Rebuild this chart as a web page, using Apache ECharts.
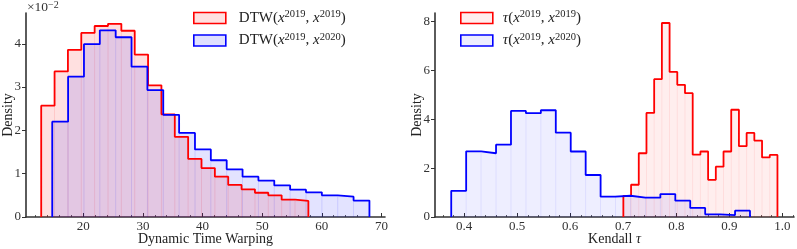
<!DOCTYPE html>
<html>
<head>
<meta charset="utf-8">
<script src="https://cdn.jsdelivr.net/npm/echarts@6/dist/echarts.min.js"></script>
<style>
html,body{margin:0;padding:0;background:#fff;}
#c{width:797px;height:249px;}
</style>
</head>
<body>
<div id="c"></div>
<script>
// ---------- data ----------
// DTW histograms (density, x 1e-2), 20 bins each
const dtwSameRange = [12.95, 57.75];
const dtwSame = [2.57,3.36,3.86,4.25,4.41,4.46,4.30,3.75,3.04,2.37,1.85,1.34,1.13,0.93,0.74,0.64,0.56,0.50,0.40,0.37];
const dtwCrossRange = [14.80, 67.99];
const dtwCross = [2.20,3.24,3.99,4.31,4.15,3.47,2.93,2.36,1.94,1.56,1.31,1.10,0.93,0.84,0.73,0.63,0.57,0.50,0.47,0.38];
// Kendall tau histograms (density), 20 bins each
const tauSameRange = [0.7002, 0.9908];
const tauSame = [0.86,1.32,2.61,4.26,5.64,7.94,5.94,5.41,5.07,2.55,2.68,1.52,2.06,2.68,4.39,2.90,3.44,3.13,2.44,2.54];
const tauCrossRange = [0.3756, 0.9390];
const tauCross = [1.07,2.69,2.61,2.96,4.34,4.25,4.37,3.45,2.68,1.72,0.83,0.87,0.79,0.79,0.94,0.67,0.37,0.11,0.08,0.26];
// tick labels
const dtwTicks = [20,30,40,50,60,70];
const dtwMinor = [12,14,16,18,22,24,26,28,32,34,36,38,42,44,46,48,52,54,56,58,62,64,66,68];
const tauTicks = [0.4,0.5,0.6,0.7,0.8,0.9,1.0];
const tauMinor = [0.36,0.38,0.42,0.44,0.46,0.48,0.52,0.54,0.56,0.58,0.62,0.64,0.66,0.68,0.72,0.74,0.76,0.78,0.82,0.84,0.86,0.88,0.92,0.94,0.96,0.98,1.02];
const dtwYTicks = [0,1,2,3,4];
const tauYTicks = [0,2,4,6,8];

// ---------- helpers ----------
const FONT = "'Liberation Serif', 'DejaVu Serif', serif";
function bins(range, h){
  const n = h.length, w = (range[1]-range[0])/n;
  return h.map((v,i)=>[range[0]+i*w, range[0]+(i+1)*w, v]);
}
function outline(range, h){
  const b = bins(range, h);
  const pts = [[b[0][0], 0]];
  b.forEach(r=>{ pts.push([r[0], r[2]]); pts.push([r[1], r[2]]); });
  pts.push([b[b.length-1][1], 0]);
  return pts;
}
function fillSeries(name, gi, range, h, fill, edge){
  return {
    type:'custom', name:name, xAxisIndex:gi*2, yAxisIndex:gi, silent:true,
    data: bins(range, h), encode:{x:[0,1], y:2},
    renderItem:function(params, api){
      const p0 = api.coord([api.value(0), api.value(2)]);
      const p1 = api.coord([api.value(1), 0]);
      return {type:'rect', shape:{x:p0[0], y:p0[1], width:p1[0]-p0[0], height:p1[1]-p0[1]},
              style:{fill:fill, stroke:edge, lineWidth:1}};
    }
  };
}
function lineSeries(name, gi, range, h, color){
  return {
    type:'line', name:name, xAxisIndex:gi*2, yAxisIndex:gi, data: outline(range, h),
    showSymbol:false, symbol:'none', lineStyle:{color:color, width:1.8}, itemStyle:{color:color},
    z:5
  };
}
const axisCol = '#333';
function xMain(gi, min, max, ticks, fmt, name){
  return {type:'value', gridIndex:gi, min:min, max:max, position:'bottom',
    name:name, nameLocation:'middle', nameGap:15, nameMoveOverlap:false,
    nameTextStyle:{fontFamily:FONT, fontSize:14, color:'#222', verticalAlign:'top', rich:{it:{fontFamily:FONT, fontSize:14, fontStyle:'italic', color:'#222'}}},
    axisLine:{show:true, onZero:false, lineStyle:{color:axisCol, width:1.6}},
    axisTick:{show:true, inside:true, length:4, customValues:ticks, lineStyle:{color:axisCol, width:1}},
    axisLabel:{show:true, customValues:ticks, formatter:fmt, margin:3, fontFamily:FONT, fontSize:13, color:'#333'},
    splitLine:{show:false}};
}
function xMinor(gi, min, max, ticks){
  return {type:'value', gridIndex:gi, min:min, max:max, position:'bottom',
    axisLine:{show:false, onZero:false},
    axisTick:{show:true, inside:true, length:2, customValues:ticks, lineStyle:{color:axisCol, width:0.8}},
    axisLabel:{show:false}, splitLine:{show:false}};
}
function yAxis(gi, max, ticks){
  return {type:'value', gridIndex:gi, min:0, max:max,
    name:'Density', nameLocation:'middle', nameGap:11, nameRotate:90, nameMoveOverlap:false,
    nameTextStyle:{fontFamily:FONT, fontSize:14, color:'#222'},
    axisLine:{show:true, lineStyle:{color:axisCol, width:1.6}},
    axisTick:{show:true, inside:false, length:4, customValues:ticks, lineStyle:{color:axisCol, width:1}},
    axisLabel:{margin:5, customValues:ticks, fontFamily:FONT, fontSize:13, color:'#333'},
    splitLine:{show:false}};
}
const richLegend = {
  n:{fontFamily:FONT, fontSize:15, color:'#222', lineHeight:18},
  it:{fontFamily:FONT, fontSize:15, fontStyle:'italic', color:'#222', lineHeight:18},
  sup:{fontFamily:FONT, fontSize:10.5, color:'#222', verticalAlign:'top', lineHeight:10}
};
const legendLabels = {
  dtwSame:'{n|DTW(}{it|x}{sup|2019}{n|, }{it|x}{sup|2019}{n|)}',
  dtwCross:'{n|DTW(}{it|x}{sup|2019}{n|, }{it|x}{sup|2020}{n|)}',
  tauSame:'{it|τ}{n|(}{it|x}{sup|2019}{n|, }{it|x}{sup|2019}{n|)}',
  tauCross:'{it|τ}{n|(}{it|x}{sup|2019}{n|, }{it|x}{sup|2020}{n|)}'
};
function legend(left, names, alpha, gap){
  return {orient:'vertical', left:left, top:9, padding:0, itemWidth:32, itemHeight:11, itemGap:6, icon:'rect',
    selectedMode:false,
    data:[
      {name:names[0], itemStyle:{color:'rgba(255,0,0,'+alpha+')', borderColor:'#ff0000', borderWidth:1.6}},
      {name:names[1], itemStyle:{color:'rgba(0,0,255,'+alpha+')', borderColor:'#0000ff', borderWidth:1.6}}
    ],
    textStyle:{fontFamily:FONT, fontSize:15, color:'#222', rich:richLegend, padding:[0,0,0,gap]},
    formatter:function(n){ return legendLabels[n]; }};
}

const chart = echarts.init(document.getElementById('c'), null, {renderer:'canvas'});
chart.setOption({
  animation:false,
  backgroundColor:'#fff',
  grid:[
    {left:26, top:13, width:359, height:204, containLabel:false, outerBoundsMode:'none'},
    {left:435, top:13, width:359, height:204, containLabel:false, outerBoundsMode:'none'}
  ],
  xAxis:[
    xMain(0, 10.4, 70.6, dtwTicks, v=>String(v), 'Dynamic Time Warping'),
    xMinor(0, 10.4, 70.6, dtwMinor),
    xMain(1, 0.345, 1.022, tauTicks, v=>Number(v).toFixed(1), 'Kendall {it|τ}'),
    xMinor(1, 0.345, 1.022, tauMinor)
  ],
  yAxis:[ yAxis(0, 4.71, dtwYTicks), yAxis(1, 8.35, tauYTicks) ],
  legend:[ legend(193, ['dtwSame','dtwCross'], 0.12, 8), legend(460, ['tauSame','tauCross'], 0.07, 5) ],
  graphic:[{type:'text', left:27, top:0, style:{rich:{
      a:{fontFamily:FONT, fontSize:13.5, fill:'#333', lineHeight:15},
      s:{fontFamily:FONT, fontSize:10, fill:'#333', verticalAlign:'top', lineHeight:9}},
      text:'{a|×10}{s|−2}'}}],
  series:[
    fillSeries('f1', 0, dtwSameRange, dtwSame, 'rgba(255,0,0,0.12)', 'rgba(255,0,0,0.06)'),
    fillSeries('f2', 0, dtwCrossRange, dtwCross, 'rgba(0,0,255,0.11)', 'rgba(0,0,255,0.06)'),
    lineSeries('dtwSame', 0, dtwSameRange, dtwSame, '#ff0000'),
    lineSeries('dtwCross', 0, dtwCrossRange, dtwCross, '#0000ff'),
    fillSeries('f3', 1, tauSameRange, tauSame, 'rgba(255,0,0,0.065)', 'rgba(255,0,0,0.04)'),
    fillSeries('f4', 1, tauCrossRange, tauCross, 'rgba(0,0,255,0.065)', 'rgba(0,0,255,0.04)'),
    lineSeries('tauSame', 1, tauSameRange, tauSame, '#ff0000'),
    lineSeries('tauCross', 1, tauCrossRange, tauCross, '#0000ff')
  ]
});
</script>
</body>
</html>
